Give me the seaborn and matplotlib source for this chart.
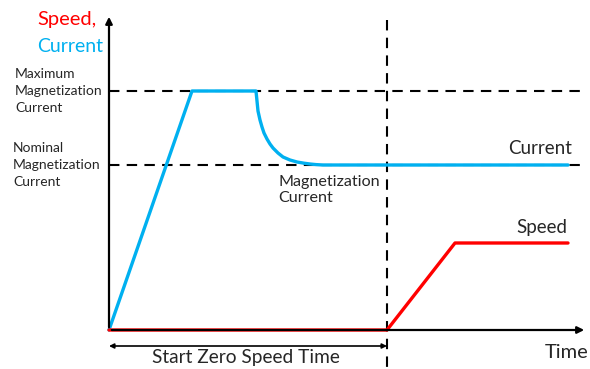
"""Magnetization current / zero speed start-up diagram."""

import matplotlib
import seaborn as sns

matplotlib.use("Agg")
import matplotlib.pyplot as plt

# time axis origin at 0, values in arbitrary units
current_time = [0, 83, 147, 147.5, 148, 149, 151, 153, 155, 158, 161, 164, 169, 174,
                181, 188, 195, 201, 207, 214, 459]
current_value = [0, 239, 239, 234, 229, 219, 210, 203, 197, 191, 186, 182, 177, 173,
                 170, 168, 166.8, 166, 165.4, 165, 165]
speed_time = [0, 278, 346, 459]
speed_value = [0, 0, 87, 87]

max_mag_current = 239
nominal_mag_current = 165
zero_speed_end = 278

BLUE = "#00B0F0"
RED = "#FF0000"

sns.set_style("white")
plt.rcParams["font.family"] = ["Lato", "DejaVu Sans"]

fig = plt.figure(figsize=(5.9, 3.69), dpi=100)
ax = fig.add_axes([0, 0, 1, 1])
ax.set_xlim(-109, 481)
ax.set_ylim(-39, 330)
ax.axis("off")

# reference levels
ax.plot([0, 476], [max_mag_current] * 2, color="black", lw=1.5, ls=(0, (5, 3.5)))
ax.plot([0, 471], [nominal_mag_current] * 2, color="black", lw=1.5, ls=(0, (5, 3.5)))
ax.plot([zero_speed_end] * 2, [310, -39], color="black", lw=1.5, ls=(0, (5, 3.5)))

# axes with arrows
ax.annotate("", xy=(0, 316), xytext=(0, 0),
            arrowprops=dict(arrowstyle="-|>", color="black", lw=1.6, mutation_scale=10))
ax.annotate("", xy=(478, 0), xytext=(0, 0),
            arrowprops=dict(arrowstyle="-|>", color="black", lw=1.6, mutation_scale=10))
ax.annotate("", xy=(zero_speed_end, -16), xytext=(0, -16),
            arrowprops=dict(arrowstyle="<|-|>", color="black", lw=1.2, mutation_scale=7,
                            shrinkA=0, shrinkB=0))

sns.lineplot(x=current_time, y=current_value, ax=ax, color=BLUE, lw=2.4, sort=False)
sns.lineplot(x=speed_time, y=speed_value, ax=ax, color=RED, lw=2.4, sort=False)

ax.text(-72, 310, "Speed,", color=RED, fontsize=14.5, ha="left", va="center")
ax.text(-72, 283, "Current", color=BLUE, fontsize=14, ha="left", va="center")
ax.text(-94, max_mag_current, "Maximum\nMagnetization\nCurrent", fontsize=10,
        ha="left", va="center", linespacing=1.45)
ax.text(-96, nominal_mag_current, "Nominal\nMagnetization\nCurrent", fontsize=10,
        ha="left", va="center", linespacing=1.45)
ax.text(169, 140, "Magnetization\nCurrent", fontsize=11.6, ha="left", va="center",
        linespacing=1.2)
ax.text(399, 182, "Current", fontsize=13.5, ha="left", va="center")
ax.text(407, 102, "Speed", fontsize=13.5, ha="left", va="center")
ax.text(137, -27, "Start Zero Speed Time", fontsize=13.8, ha="center", va="center")
ax.text(436, -23, "Time", fontsize=14.5, ha="left", va="center")

fig.savefig("out.png", dpi=100)
plt.close(fig)
